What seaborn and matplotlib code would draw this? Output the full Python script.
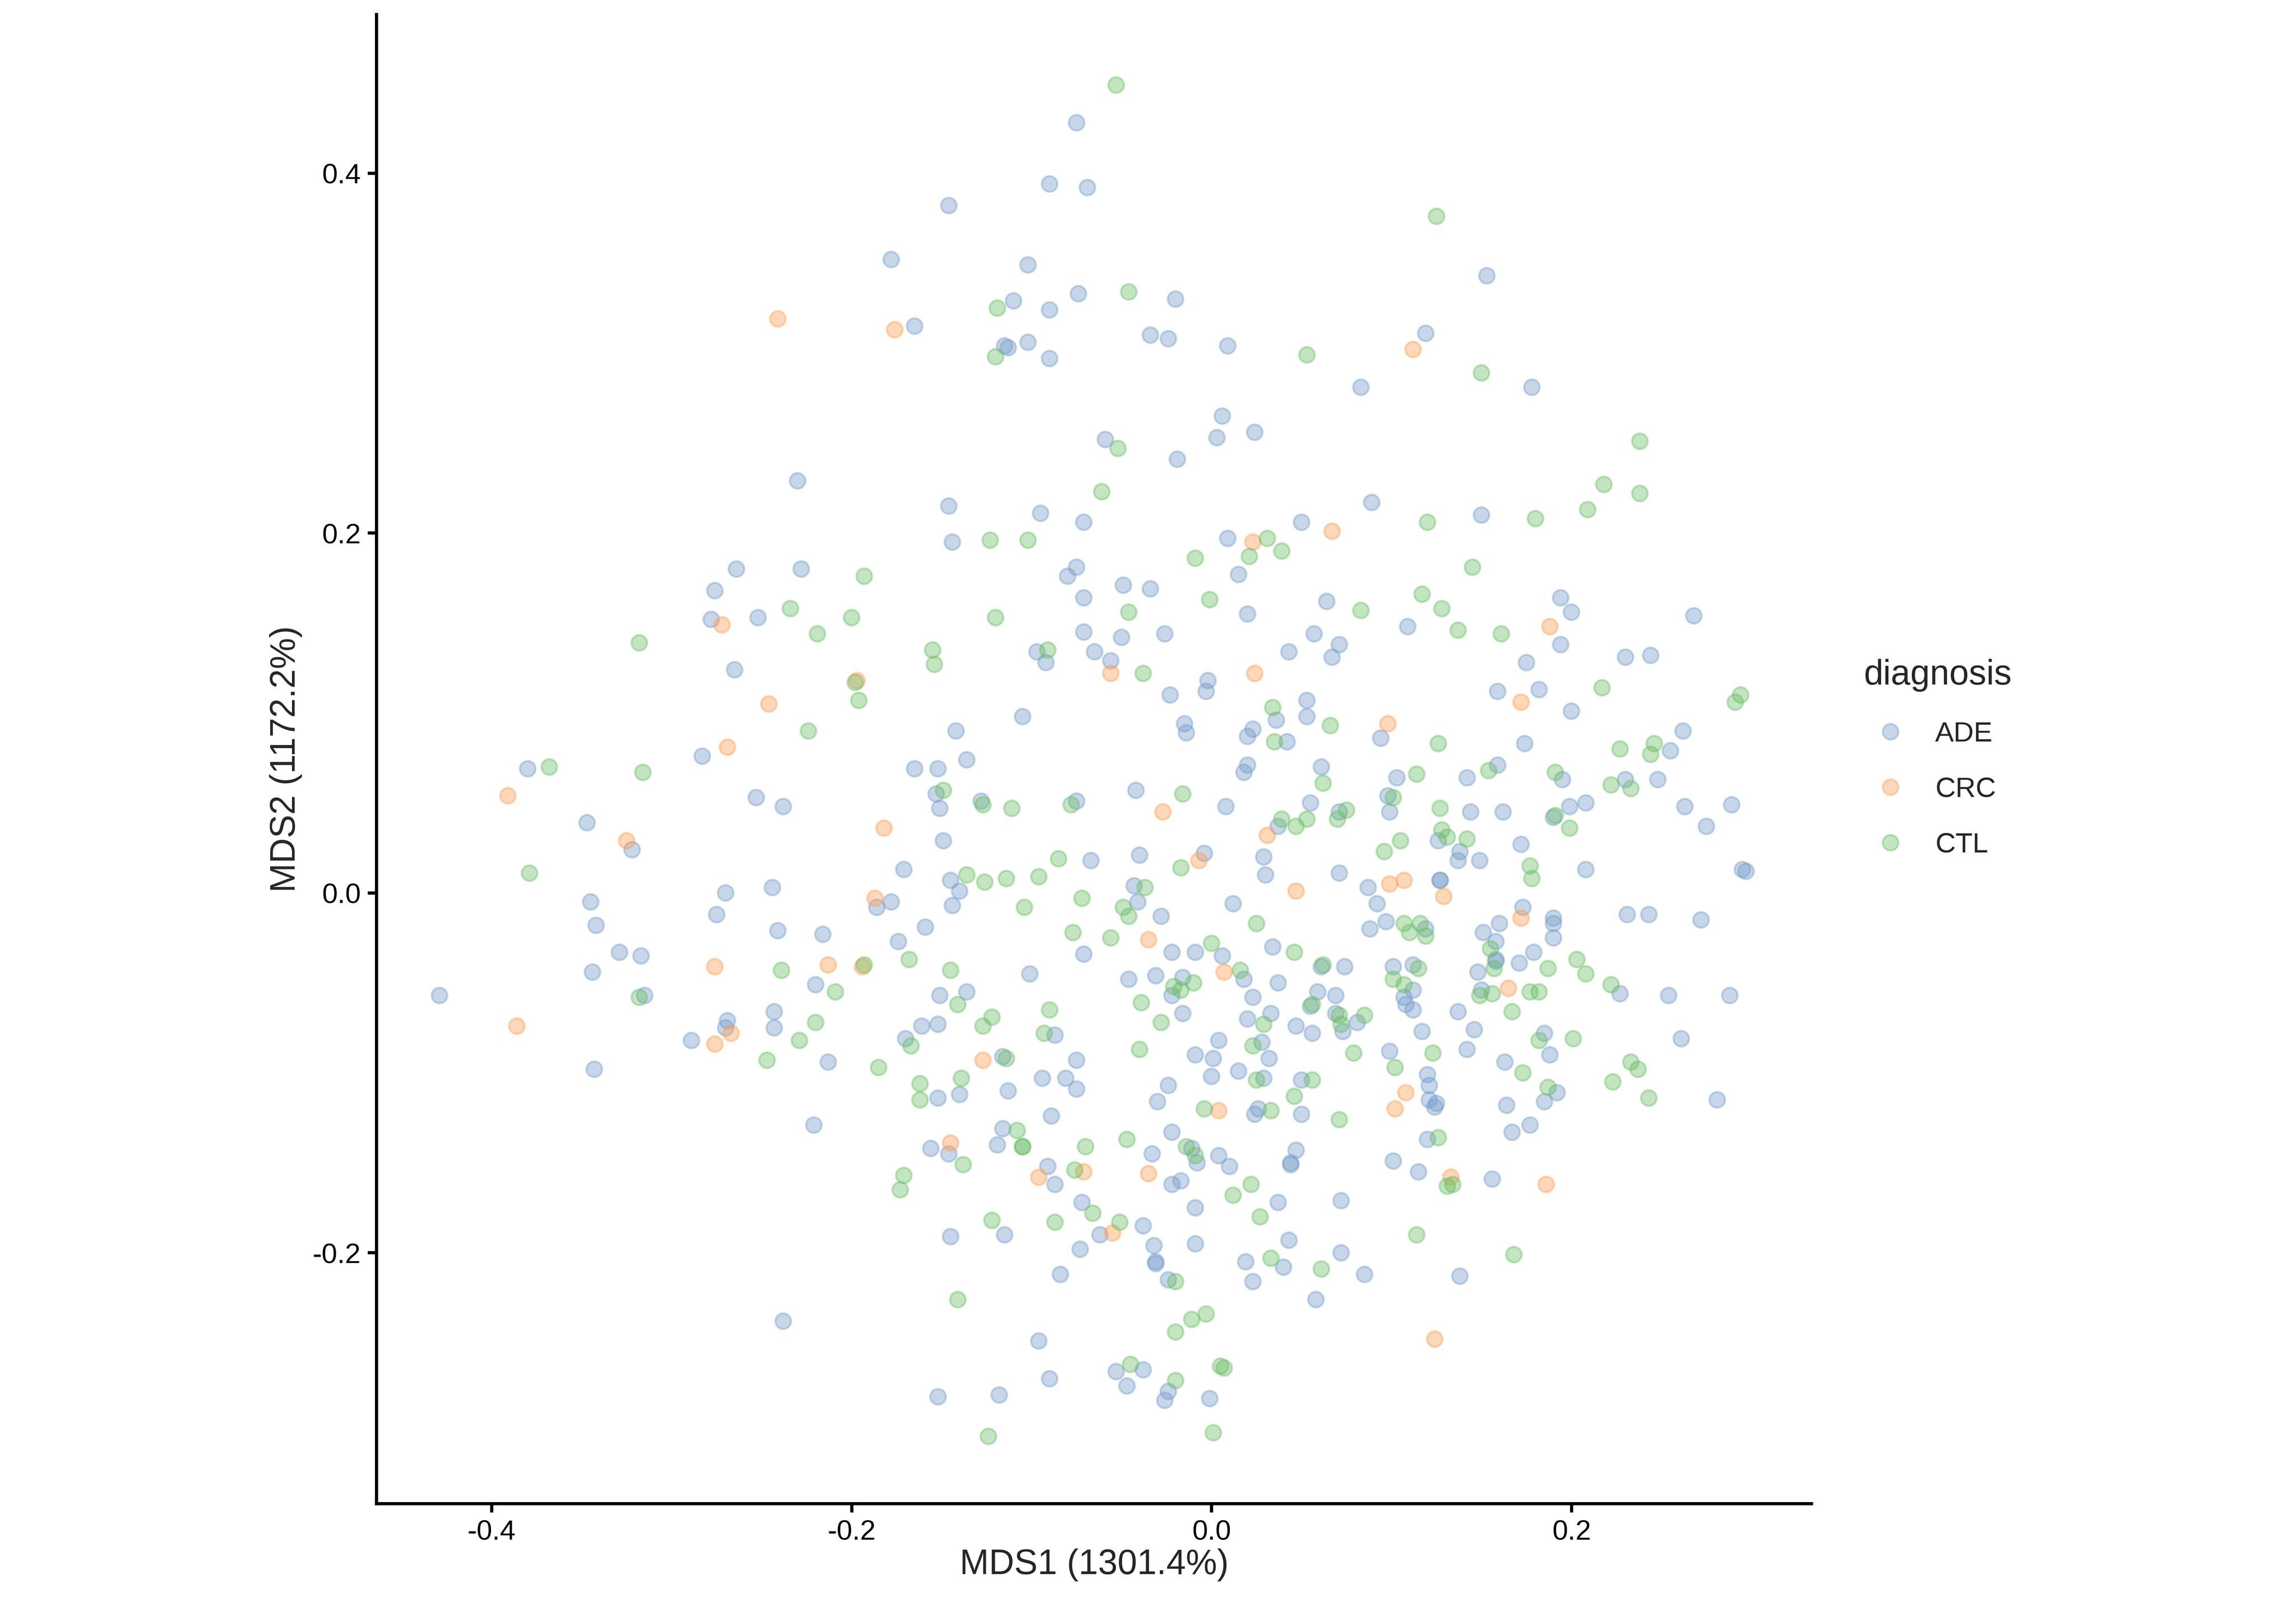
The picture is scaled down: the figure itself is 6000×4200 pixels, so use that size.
import numpy as np
import pandas as pd
import seaborn as sns
import matplotlib
matplotlib.use("Agg")
import matplotlib.pyplot as plt
from matplotlib.lines import Line2D

# MDS coordinates, one list per diagnosis
ade_pts = [
    (-0.230, 0.229),
    (-0.075, 0.428), (-0.090, 0.394), (-0.069, 0.392), (-0.146, 0.382), (-0.178, 0.352),
    (-0.102, 0.349), (-0.074, 0.333), (-0.020, 0.330), (-0.110, 0.329), (-0.090, 0.324),
    (-0.165, 0.315), (-0.115, 0.304), (-0.113, 0.303), (-0.102, 0.306), (-0.090, 0.297),
    (-0.034, 0.310), (-0.024, 0.308), (0.009, 0.304), (0.006, 0.265), (0.024, 0.256),
    (0.003, 0.253), (-0.059, 0.252), (-0.019, 0.241), (-0.146, 0.215), (-0.095, 0.211),
    (-0.071, 0.206), (0.050, 0.206),
    (0.153, 0.343), (0.119, 0.311), (0.083, 0.281), (0.178, 0.281), (0.089, 0.217), (0.150, 0.210),
    (-0.264, 0.180), (-0.228, 0.180), (-0.276, 0.168), (-0.252, 0.153), (-0.278, 0.152),
    (-0.265, 0.124), (-0.283, 0.076), (-0.380, 0.069), (-0.253, 0.053), (-0.238, 0.048),
    (-0.347, 0.039), (-0.322, 0.024), (-0.270, 0.000), (-0.244, 0.003), (-0.345, -0.005),
    (-0.275, -0.012), (-0.342, -0.018), (-0.241, -0.021), (-0.216, -0.023), (-0.329, -0.033),
    (-0.317, -0.035), (-0.344, -0.044), (-0.220, -0.051), (-0.429, -0.057), (-0.315, -0.057),
    (-0.144, 0.195), (0.009, 0.197), (-0.075, 0.181), (-0.080, 0.176), (0.015, 0.177),
    (-0.049, 0.171), (-0.034, 0.169), (-0.071, 0.164), (0.064, 0.162), (0.020, 0.155),
    (-0.071, 0.145), (-0.050, 0.142), (-0.026, 0.144), (0.057, 0.144), (0.071, 0.138),
    (-0.097, 0.134), (-0.092, 0.128), (-0.065, 0.134), (-0.056, 0.129), (0.043, 0.134),
    (0.067, 0.131), (-0.002, 0.118), (-0.003, 0.112), (-0.023, 0.110), (0.053, 0.107),
    (0.053, 0.098), (-0.105, 0.098), (0.036, 0.096), (-0.142, 0.090), (-0.015, 0.094),
    (-0.014, 0.089), (0.023, 0.091), (0.020, 0.087), (0.042, 0.084), (-0.136, 0.074),
    (-0.165, 0.069), (-0.152, 0.069), (0.020, 0.071), (0.018, 0.067), (0.061, 0.070),
    (-0.153, 0.055), (-0.042, 0.057), (-0.128, 0.051), (-0.075, 0.051), (-0.151, 0.047),
    (0.008, 0.048), (0.055, 0.050), (0.071, 0.045), (0.037, 0.037), (-0.149, 0.029),
    (-0.067, 0.018), (-0.040, 0.021), (-0.004, 0.022), (0.029, 0.020), (0.030, 0.010),
    (0.071, 0.011), (-0.171, 0.013), (-0.145, 0.007), (-0.140, 0.001), (-0.043, 0.004),
    (-0.186, -0.008), (-0.178, -0.005), (-0.144, -0.007), (-0.041, -0.005), (-0.028, -0.013),
    (0.012, -0.006), (-0.159, -0.019), (-0.174, -0.027), (-0.022, -0.033), (-0.009, -0.033),
    (0.006, -0.035), (0.034, -0.030), (-0.071, -0.034), (-0.101, -0.045), (-0.046, -0.048),
    (-0.031, -0.046), (0.018, -0.048), (-0.016, -0.047), (0.037, -0.050), (0.061, -0.041),
    (-0.151, -0.057), (-0.136, -0.055), (-0.022, -0.057), (0.023, -0.058), (0.059, -0.055),
    (0.069, -0.057),
    (0.109, 0.148), (0.194, 0.164), (0.200, 0.156), (0.194, 0.138), (0.268, 0.154),
    (0.230, 0.131), (0.244, 0.132), (0.175, 0.128), (0.159, 0.112), (0.182, 0.113),
    (0.200, 0.101), (0.094, 0.086), (0.174, 0.083), (0.262, 0.090), (0.255, 0.079),
    (0.159, 0.071), (0.195, 0.063), (0.103, 0.064), (0.142, 0.064), (0.230, 0.063),
    (0.248, 0.063), (0.098, 0.054), (0.099, 0.045), (0.144, 0.045), (0.162, 0.045),
    (0.199, 0.048), (0.208, 0.050), (0.190, 0.042), (0.263, 0.048), (0.289, 0.049),
    (0.275, 0.037), (0.126, 0.029), (0.138, 0.023), (0.137, 0.018), (0.149, 0.018),
    (0.172, 0.027), (0.208, 0.013), (0.295, 0.013), (0.297, 0.012), (0.127, 0.007),
    (0.127, 0.007), (0.087, 0.003), (0.092, -0.006), (0.173, -0.008), (0.190, -0.014),
    (0.190, -0.017), (0.190, -0.025), (0.231, -0.012), (0.243, -0.012), (0.272, -0.015),
    (0.097, -0.016), (0.119, -0.020), (0.088, -0.020), (0.151, -0.022), (0.160, -0.017),
    (0.158, -0.027), (0.158, -0.037), (0.158, -0.038), (0.148, -0.044), (0.171, -0.039),
    (0.179, -0.033), (0.074, -0.041), (0.101, -0.041), (0.112, -0.040), (0.112, -0.054),
    (0.107, -0.058), (0.150, -0.054), (0.227, -0.056), (0.254, -0.057), (0.288, -0.057),
    (-0.289, -0.082), (-0.269, -0.071), (-0.270, -0.075), (-0.243, -0.066), (-0.243, -0.075),
    (-0.213, -0.094), (-0.343, -0.098), (-0.221, -0.129), (-0.238, -0.238),
    (-0.161, -0.074), (-0.152, -0.073), (-0.170, -0.081), (-0.087, -0.079), (-0.016, -0.067),
    (0.020, -0.070), (0.033, -0.067), (0.047, -0.074), (0.056, -0.078), (0.055, -0.063),
    (0.069, -0.067), (0.073, -0.077), (0.004, -0.082), (-0.009, -0.090), (0.001, -0.092),
    (0.028, -0.083), (0.032, -0.092), (0.000, -0.102), (0.015, -0.099), (0.029, -0.103),
    (0.050, -0.104), (-0.075, -0.093), (-0.081, -0.103), (-0.075, -0.109), (-0.094, -0.103),
    (-0.116, -0.091), (-0.152, -0.114), (-0.140, -0.112), (-0.113, -0.110), (-0.024, -0.107),
    (-0.030, -0.116), (0.026, -0.120), (0.024, -0.123), (0.050, -0.123), (-0.089, -0.124),
    (-0.116, -0.131), (-0.156, -0.142), (-0.146, -0.145), (-0.119, -0.140), (-0.022, -0.133),
    (-0.033, -0.145), (-0.011, -0.142), (-0.008, -0.150), (0.004, -0.146), (0.010, -0.152),
    (0.047, -0.143), (0.044, -0.150), (0.044, -0.151), (-0.091, -0.152), (-0.087, -0.162),
    (-0.022, -0.162), (-0.017, -0.160), (0.037, -0.172), (0.072, -0.171), (-0.009, -0.175),
    (-0.072, -0.172), (-0.062, -0.190), (-0.038, -0.185), (-0.115, -0.190), (-0.145, -0.191),
    (-0.073, -0.198), (-0.032, -0.196), (-0.031, -0.205), (-0.031, -0.206), (-0.009, -0.195),
    (0.043, -0.193), (0.072, -0.200), (0.019, -0.205), (0.040, -0.208), (-0.024, -0.215),
    (0.023, -0.216), (0.058, -0.226), (-0.084, -0.212), (-0.096, -0.249), (-0.053, -0.266),
    (-0.038, -0.265), (-0.047, -0.274), (-0.024, -0.277), (-0.026, -0.282), (-0.001, -0.281),
    (-0.090, -0.270), (-0.152, -0.280), (-0.118, -0.279),
    (0.108, -0.062), (0.112, -0.065), (0.081, -0.072), (0.137, -0.066), (0.117, -0.077),
    (0.146, -0.076), (0.185, -0.078), (0.261, -0.081), (0.099, -0.088), (0.142, -0.087),
    (0.188, -0.090), (0.163, -0.094), (0.281, -0.115), (0.120, -0.101), (0.121, -0.107),
    (0.121, -0.115), (0.125, -0.117), (0.124, -0.119), (0.192, -0.111), (0.185, -0.116),
    (0.164, -0.118), (0.167, -0.133), (0.177, -0.129), (0.120, -0.137), (0.101, -0.149),
    (0.115, -0.155), (0.156, -0.159), (0.085, -0.212), (0.138, -0.213),
]

crc_pts = [
    (-0.241, 0.319), (-0.176, 0.313), (0.112, 0.302),
    (-0.272, 0.149), (-0.197, 0.118), (-0.246, 0.105), (-0.269, 0.081), (-0.391, 0.054),
    (-0.325, 0.029), (-0.276, -0.041), (-0.213, -0.040), (-0.194, -0.041),
    (0.067, 0.201), (0.023, 0.195), (-0.056, 0.122), (0.024, 0.122), (-0.182, 0.036),
    (-0.027, 0.045), (0.031, 0.032), (-0.007, 0.018), (-0.187, -0.003), (0.047, 0.001),
    (-0.035, -0.026), (0.007, -0.044),
    (0.188, 0.148), (0.172, 0.106), (0.098, 0.094), (0.099, 0.005), (0.107, 0.007),
    (0.129, -0.002), (0.172, -0.014), (0.165, -0.053),
    (-0.386, -0.074), (-0.267, -0.078), (-0.276, -0.084),
    (-0.127, -0.093), (0.004, -0.121), (-0.145, -0.139), (-0.071, -0.155), (-0.096, -0.158),
    (-0.035, -0.156), (-0.055, -0.189),
    (0.108, -0.111), (0.102, -0.120), (0.133, -0.158), (0.186, -0.162), (0.124, -0.248),
]

ctl_pts = [
    (-0.053, 0.449), (-0.046, 0.334), (-0.119, 0.325), (-0.120, 0.298), (0.053, 0.299),
    (-0.052, 0.247), (-0.061, 0.223),
    (0.125, 0.376), (0.150, 0.289), (0.238, 0.251), (0.218, 0.227), (0.238, 0.222),
    (0.209, 0.213), (0.120, 0.206), (0.180, 0.208),
    (-0.193, 0.176), (-0.234, 0.158), (-0.200, 0.153), (-0.219, 0.144), (-0.318, 0.139),
    (-0.198, 0.117), (-0.196, 0.107), (-0.224, 0.090), (-0.368, 0.070), (-0.316, 0.067),
    (-0.379, 0.011), (-0.239, -0.043), (-0.193, -0.040), (-0.209, -0.055), (-0.318, -0.058),
    (-0.123, 0.196), (-0.102, 0.196), (0.031, 0.197), (-0.009, 0.186), (0.021, 0.187),
    (0.039, 0.190), (-0.001, 0.163), (-0.120, 0.153), (-0.046, 0.156), (-0.155, 0.135),
    (-0.154, 0.127), (-0.091, 0.135), (-0.038, 0.122), (0.034, 0.103), (0.066, 0.093),
    (0.035, 0.084), (0.062, 0.061), (-0.149, 0.057), (-0.016, 0.055), (-0.127, 0.049),
    (-0.111, 0.047), (-0.078, 0.049), (0.070, 0.041), (0.039, 0.041), (0.053, 0.041),
    (0.047, 0.037), (-0.085, 0.019), (-0.017, 0.014), (-0.136, 0.010), (-0.126, 0.006),
    (-0.114, 0.008), (-0.096, 0.009), (-0.037, 0.003), (-0.072, -0.003), (-0.049, -0.008),
    (-0.046, -0.013), (-0.104, -0.008), (0.025, -0.017), (-0.077, -0.022), (-0.056, -0.025),
    (0.000, -0.028), (0.046, -0.033), (-0.168, -0.037), (-0.145, -0.043), (0.016, -0.043),
    (-0.010, -0.050), (-0.021, -0.052), (-0.017, -0.054), (0.062, -0.040),
    (0.145, 0.181), (0.117, 0.166), (0.083, 0.157), (0.128, 0.158), (0.137, 0.146),
    (0.161, 0.144), (0.217, 0.114), (0.294, 0.110), (0.291, 0.106), (0.126, 0.083),
    (0.227, 0.080), (0.246, 0.083), (0.244, 0.077), (0.154, 0.068), (0.191, 0.067),
    (0.114, 0.066), (0.222, 0.060), (0.233, 0.058), (0.101, 0.053), (0.075, 0.046),
    (0.127, 0.047), (0.191, 0.043), (0.199, 0.036), (0.128, 0.035), (0.131, 0.031),
    (0.142, 0.030), (0.105, 0.029), (0.096, 0.023), (0.177, 0.015), (0.178, 0.008),
    (0.107, -0.017), (0.116, -0.017), (0.110, -0.022), (0.119, -0.024), (0.155, -0.031),
    (0.157, -0.042), (0.187, -0.042), (0.203, -0.037), (0.208, -0.045), (0.222, -0.051),
    (0.115, -0.042), (0.101, -0.048), (0.107, -0.051), (0.149, -0.057), (0.156, -0.056),
    (0.177, -0.055), (0.182, -0.055),
    (-0.220, -0.072), (-0.229, -0.082), (-0.247, -0.093),
    (-0.141, -0.062), (-0.039, -0.061), (-0.090, -0.065), (-0.122, -0.069), (-0.127, -0.074),
    (-0.167, -0.085), (-0.093, -0.078), (-0.028, -0.072), (0.029, -0.073), (0.056, -0.062),
    (0.071, -0.068), (0.072, -0.073), (-0.040, -0.087), (0.023, -0.085), (0.025, -0.104),
    (0.056, -0.104), (0.046, -0.113), (-0.114, -0.092), (-0.185, -0.097), (-0.162, -0.106),
    (-0.162, -0.115), (-0.139, -0.103), (-0.004, -0.120), (0.033, -0.121), (0.071, -0.126),
    (-0.108, -0.132), (-0.105, -0.141), (-0.105, -0.141), (-0.138, -0.151), (-0.171, -0.157),
    (-0.173, -0.165), (-0.070, -0.141), (-0.047, -0.137), (-0.014, -0.141), (-0.009, -0.146),
    (-0.076, -0.154), (0.022, -0.162), (0.012, -0.168), (-0.066, -0.178), (-0.051, -0.183),
    (-0.087, -0.183), (-0.122, -0.182), (0.027, -0.180), (0.033, -0.203), (0.061, -0.209),
    (-0.020, -0.216), (-0.141, -0.226), (-0.003, -0.234), (-0.011, -0.237), (-0.020, -0.244),
    (-0.045, -0.262), (-0.020, -0.271), (0.005, -0.263), (0.007, -0.264), (-0.124, -0.302),
    (0.001, -0.300),
    (0.085, -0.068), (0.167, -0.066), (0.182, -0.082), (0.201, -0.081), (0.079, -0.089),
    (0.123, -0.089), (0.102, -0.097), (0.173, -0.100), (0.233, -0.094), (0.237, -0.098),
    (0.223, -0.105), (0.243, -0.114), (0.187, -0.108), (0.126, -0.136), (0.131, -0.163),
    (0.134, -0.162), (0.114, -0.190), (0.168, -0.201),
]

groups = ["ADE", "CRC", "CTL"]
colors = {"ADE": "#759dca", "CRC": "#ff9e53", "CTL": "#6bbe64"}

xlabel = "MDS1 (1301.4%)"
ylabel = "MDS2 (1172.2%)"
xticks = [-0.4, -0.2, 0.0, 0.2]
yticks = [-0.2, 0.0, 0.2, 0.4]

frames = []
for name, pts in zip(groups, [ade_pts, crc_pts, ctl_pts]):
    arr = np.array(pts)
    frames.append(pd.DataFrame({"MDS1": arr[:, 0], "MDS2": arr[:, 1], "diagnosis": name}))
df = pd.concat(frames, ignore_index=True)

sns.set_theme(style="ticks")
plt.rcParams["font.family"] = ["Liberation Sans", "DejaVu Sans"]
plt.rcParams["axes.unicode_minus"] = False

alpha = 0.4
msize = 96
mlw = 1.3

fig = plt.figure(figsize=(20, 14), dpi=300)
ax = fig.add_axes([0.164, 0.0643, 0.625, 0.9267])

sns.scatterplot(data=df, x="MDS1", y="MDS2", hue="diagnosis", palette=colors,
                hue_order=groups, s=msize, alpha=alpha, edgecolor="face",
                linewidth=mlw, legend=False, ax=ax)

ax.set_xlim(-0.464, 0.3334)
ax.set_ylim(-0.3394, 0.4882)
ax.set_xticks(xticks)
ax.set_xticklabels(["%.1f" % v for v in xticks])
ax.set_yticks(yticks)
ax.set_yticklabels(["%.1f" % v for v in yticks])

sns.despine(ax=ax)
for side in ["left", "bottom"]:
    ax.spines[side].set_linewidth(2.0)
    ax.spines[side].set_color("black")
ax.tick_params(axis="both", length=5.5, width=2.0, pad=4.4, labelsize=17.6,
               colors="black", direction="out")

ax.set_xlabel(xlabel, fontsize=22, labelpad=2)
ax.set_ylabel(ylabel, fontsize=22, labelpad=6.5)

handles = [Line2D([], [], linestyle="none", marker="o", markersize=np.sqrt(msize),
                  markerfacecolor=colors[g], markeredgecolor=colors[g],
                  markeredgewidth=mlw, alpha=alpha) for g in groups]
leg = ax.legend(handles, groups, title="diagnosis", loc="center left",
                bbox_to_anchor=(0.8056, 0.528), bbox_transform=fig.transFigure,
                frameon=False, borderpad=0, alignment="left", handlelength=1.9,
                handletextpad=0.65, labelspacing=1.06, fontsize=17.6,
                title_fontsize=22)

fig.savefig("out.png", dpi=300)
